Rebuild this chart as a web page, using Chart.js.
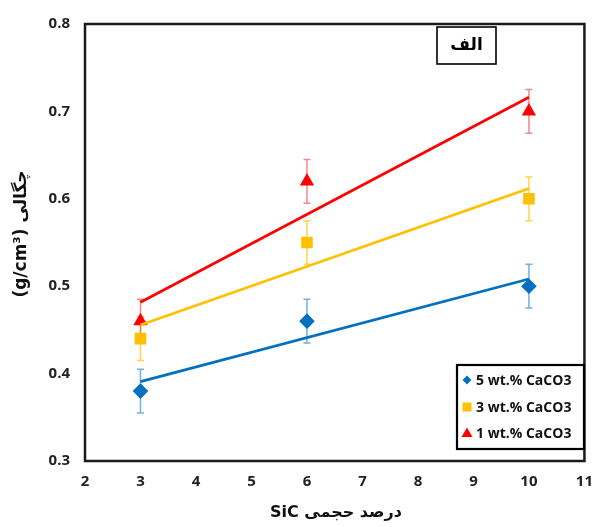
<!DOCTYPE html>
<html>
<head>
<meta charset="utf-8">
<script src="https://cdn.jsdelivr.net/npm/chart.js@4"></script>
<style>
  html, body { margin: 0; padding: 0; background: #fff; }
  #wrap { width: 605px; height: 527px; position: relative; }
</style>
</head>
<body>
<div id="wrap"><canvas id="myChart" width="605" height="527"></canvas></div>
<script>
// chart values
const sicPercent = [3, 6, 10];
const density5 = [0.38, 0.46, 0.50];
const density3 = [0.44, 0.55, 0.60];
const density1 = [0.46, 0.62, 0.70];
const error5 = [0.025, 0.025, 0.025];
const error3 = [0.025, 0.025, 0.025];
const error1 = [0.025, 0.025, 0.025];
const seriesLabels = ['5 wt.% CaCO3', '3 wt.% CaCO3', '1 wt.% CaCO3'];
const xTicks = [2, 3, 4, 5, 6, 7, 8, 9, 10, 11];
const yTicks = [0.3, 0.4, 0.5, 0.6, 0.7, 0.8];

const BLUE = '#0070C0';
const GOLD = '#FFC000';
const RED = '#FF0000';

// least squares trend line over the measured range
function trend(xs, ys) {
  const n = xs.length;
  const mx = xs.reduce((a, b) => a + b, 0) / n;
  const my = ys.reduce((a, b) => a + b, 0) / n;
  let sxy = 0, sxx = 0;
  for (let i = 0; i < n; i++) {
    sxy += (xs[i] - mx) * (ys[i] - my);
    sxx += (xs[i] - mx) * (xs[i] - mx);
  }
  const k = sxy / sxx;
  const x0 = Math.min(...xs), x1 = Math.max(...xs);
  return [{ x: x0, y: my + k * (x0 - mx) }, { x: x1, y: my + k * (x1 - mx) }];
}

function points(ys, errs) {
  return sicPercent.map((x, i) => ({ x: x, y: ys[i], err: errs[i] }));
}

const series = [
  { label: seriesLabels[0], ys: density5, errs: error5, color: BLUE, style: 'rectRot', radius: 7.8, bar: 'rgba(0,112,192,0.55)' },
  { label: seriesLabels[1], ys: density3, errs: error3, color: GOLD, style: 'rect', radius: 8.2, bar: 'rgba(255,192,0,0.7)' },
  { label: seriesLabels[2], ys: density1, errs: error1, color: RED, style: 'triangle', radius: 8.3, bar: 'rgba(230,60,60,0.6)' }
];

const datasets = [];
series.forEach(function (s) {
  datasets.push({
    label: s.label,
    data: points(s.ys, s.errs),
    showLine: false,
    pointStyle: s.style,
    pointRadius: s.radius,
    pointBackgroundColor: s.color,
    pointBorderColor: s.color,
    pointBorderWidth: 0,
    errColor: s.bar,
    order: 2
  });
  datasets.push({
    label: s.label + ' trend',
    data: trend(sicPercent, s.ys),
    showLine: true,
    borderColor: s.color,
    borderWidth: 2.6,
    pointRadius: 0,
    order: 1
  });
});

const errorBars = {
  id: 'errorBars',
  beforeDatasetsDraw(chart) {
    const ctx = chart.ctx;
    const xs = chart.scales.x, ys = chart.scales.y;
    ctx.save();
    chart.data.datasets.forEach(function (ds) {
      if (!ds.errColor) return;
      ctx.strokeStyle = ds.errColor;
      ctx.lineWidth = 1.5;
      ds.data.forEach(function (p) {
        const px = xs.getPixelForValue(p.x);
        const top = ys.getPixelForValue(p.y + p.err);
        const bot = ys.getPixelForValue(p.y - p.err);
        ctx.beginPath();
        ctx.moveTo(px, top); ctx.lineTo(px, bot);
        ctx.moveTo(px - 3.5, top); ctx.lineTo(px + 3.5, top);
        ctx.moveTo(px - 3.5, bot); ctx.lineTo(px + 3.5, bot);
        ctx.stroke();
      });
    });
    ctx.restore();
  }
};

const frameAndText = {
  id: 'frameAndText',
  afterDraw(chart) {
    const ctx = chart.ctx;
    const a = chart.chartArea;
    ctx.save();
    // plot frame
    ctx.strokeStyle = '#1a1a1a';
    ctx.lineWidth = 2.5;
    ctx.strokeRect(a.left, a.top, a.right - a.left, a.bottom - a.top);

    // panel label box
    ctx.lineWidth = 1.6;
    ctx.strokeStyle = '#000';
    ctx.strokeRect(437, 27, 59, 37);
    ctx.fillStyle = '#000';
    ctx.font = 'bold 17px "DejaVu Sans"';
    ctx.textAlign = 'center';
    ctx.textBaseline = 'middle';
    ctx.fillText('الف', 466.5, 46);

    // legend box
    ctx.lineWidth = 2.2;
    ctx.strokeRect(457, 365, 127, 84);
    const rows = [380, 407, 433];
    series.forEach(function (s, i) {
      const cx = 467, cy = rows[i];
      ctx.fillStyle = s.color;
      ctx.beginPath();
      if (s.style === 'rectRot') {
        ctx.moveTo(cx - 4.5, cy); ctx.lineTo(cx, cy - 4.5); ctx.lineTo(cx + 4.5, cy); ctx.lineTo(cx, cy + 4.5);
      } else if (s.style === 'rect') {
        ctx.rect(cx - 4.5, cy - 4.5, 9, 9);
      } else {
        ctx.moveTo(cx, cy - 5.5); ctx.lineTo(cx + 5.5, cy + 4); ctx.lineTo(cx - 5.5, cy + 4);
      }
      ctx.closePath();
      ctx.fill();
      ctx.fillStyle = '#111';
      ctx.font = 'bold 14px "Open Sans"';
      ctx.textAlign = 'left';
      ctx.textBaseline = 'middle';
      ctx.fillText(s.label, 476, cy + 1);
    });

    // axis titles
    ctx.fillStyle = '#111';
    ctx.direction = 'ltr';
    ctx.textAlign = 'center';
    ctx.textBaseline = 'middle';
    ctx.font = 'bold 16px "DejaVu Sans"';
    ctx.fillText('SiC درصد حجمی', 336, 513);
    ctx.translate(22, 234);
    ctx.rotate(-Math.PI / 2);
    ctx.font = 'bold 17px "DejaVu Sans"';
    ctx.fillText('(g/cm³) چگالی', 0, 0);
    ctx.restore();
  }
};

const ctx = document.getElementById('myChart').getContext('2d');

const chart = new Chart(ctx, {
  type: 'scatter',
  data: { datasets: datasets },
  options: {
    responsive: false,
    animation: false,
    layout: { padding: { left: 0, top: 15, right: 10, bottom: 0 } },
    plugins: { legend: { display: false }, tooltip: { enabled: false } },
    scales: {
      x: {
        type: 'linear',
        min: xTicks[0],
        max: xTicks[xTicks.length - 1],
        afterBuildTicks(scale) { scale.ticks = xTicks.map(v => ({ value: v })); },
        afterFit(scale) { scale.height = 66; },
        grid: { display: false, drawTicks: false },
        border: { display: false },
        ticks: { padding: 12, color: '#222', font: { family: 'Open Sans', size: 15, weight: 'bold' } }
      },
      y: {
        type: 'linear',
        min: yTicks[0],
        max: yTicks[yTicks.length - 1],
        afterBuildTicks(scale) { scale.ticks = yTicks.map(v => ({ value: v })); },
        afterFit(scale) { scale.width = 85; },
        grid: { display: false, drawTicks: false },
        border: { display: false },
        ticks: {
          padding: 15,
          color: '#222',
          font: { family: 'Open Sans', size: 15, weight: 'bold' },
          callback: v => v.toFixed(1)
        }
      }
    }
  },
  plugins: [errorBars, frameAndText]
});
</script>
</body>
</html>
